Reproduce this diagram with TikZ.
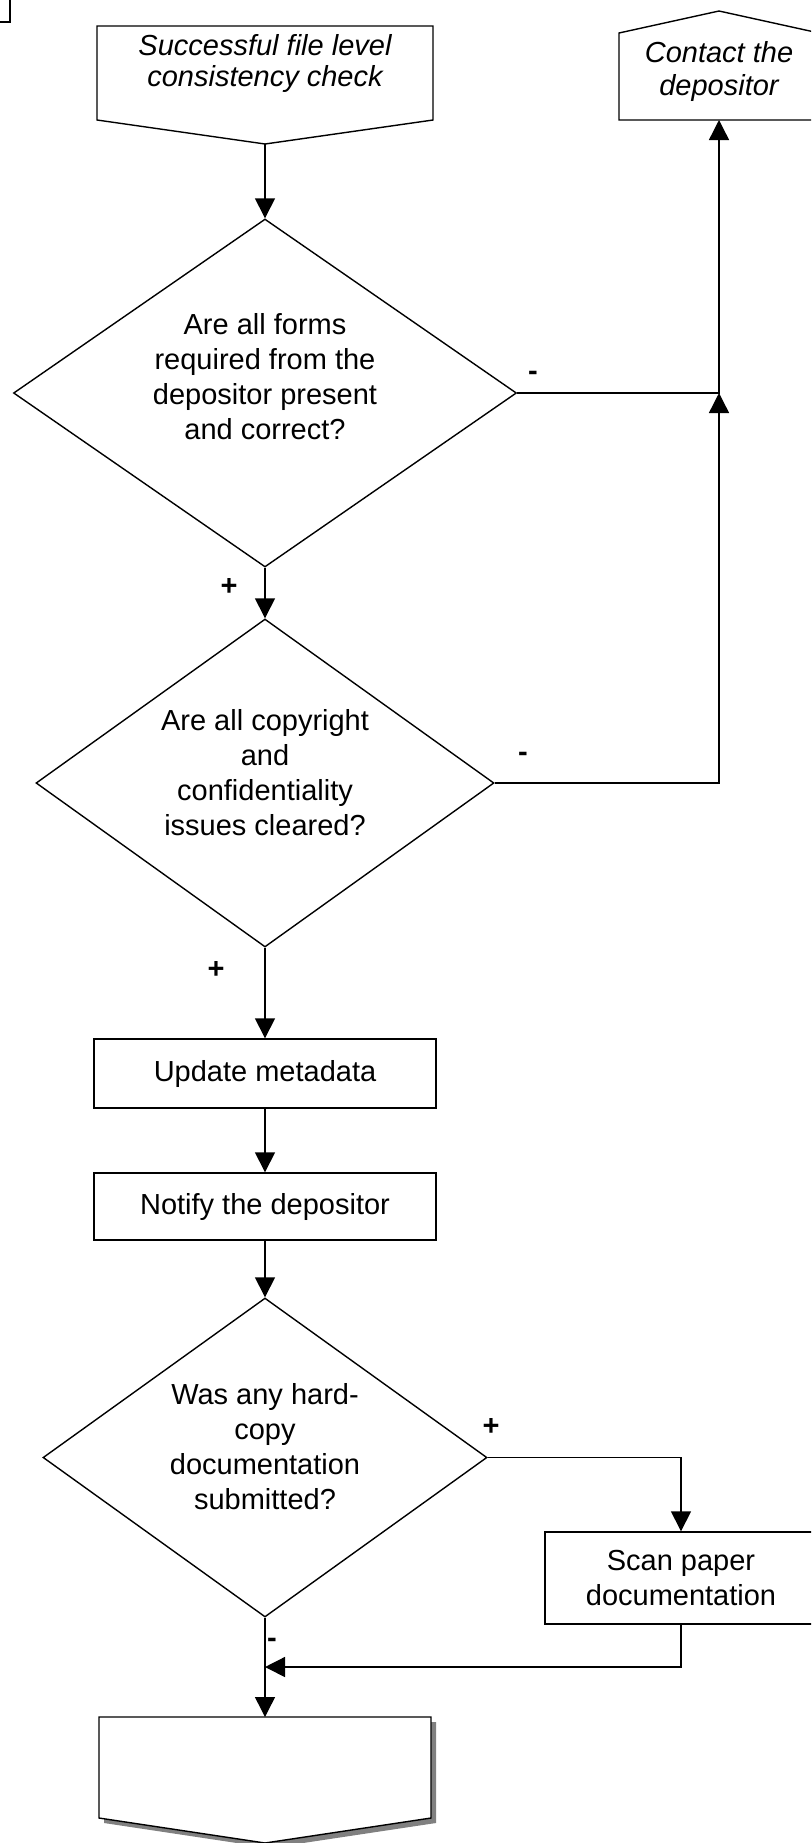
\documentclass[tikz,border=0pt]{standalone}
\usepackage{fontspec}
\setmainfont{Liberation Sans}
\usetikzlibrary{arrows.meta,shapes.geometric,calc}
\begin{document}
\begin{tikzpicture}[x=0.5pt,y=-0.5pt,
  line width=0.7pt,
  txt/.style={font=\fontsize{14.5}{17.5}\selectfont, align=center, inner sep=0pt},
  ital/.style={font=\fontsize{14.5}{#1}\selectfont\itshape, align=center, inner sep=0pt},
  sign/.style={font=\fontsize{14.5}{17.5}\selectfont\bfseries, inner sep=0pt},
  flow/.style={-{Triangle[length=10pt,width=10pt]}},
  frame/.style={rectangle, inner sep=0pt, outer sep=0pt},
  box/.style={draw, rectangle, inner sep=0pt, align=center,
    font=\fontsize{14.5}{17.5}\selectfont},
  dia/.style={draw, diamond, inner sep=0pt},
]
\useasboundingbox (0,0) rectangle (811,1843);
\clip (0,0) rectangle (811,1843);

% corner of a shape running off the page
\draw (10,0) -- (10,22) -- (0,22);

% start: off-page connector
\node[frame, minimum width=168pt, minimum height=47pt] (start) at (265,73) {};
\coordinate (starttip) at (265,144);
\draw (start.north west) -- (start.north east) -- (start.south east)
  -- (starttip) -- (start.south west) -- cycle;
\node[ital=15.5pt] (startt) at (265,63) {Successful file level\\consistency check};

% contact: off-page connector pointing up
\node[frame, minimum width=100pt, minimum height=43.5pt] (contact) at (719,76.5) {};
\coordinate (contactapex) at (719,11);
\draw (contact.south west) -- (contact.north west) -- (contactapex)
  -- (contact.north east) -- (contact.south east) -- cycle;
\node[ital=16.5pt] (contactt) at (719,71) {Contact the\\depositor};

% decisions
\node[dia, minimum width=251.5pt, minimum height=174pt] (d1) at (265,393) {};
\node[txt] (d1t) at (265,377) {Are all forms\\required from the\\depositor present\\and correct?};

\node[dia, minimum width=229pt, minimum height=164pt] (d2) at (265,783) {};
\node[txt] (d2t) at (265,773) {Are all copyright\\and\\confidentiality\\issues cleared?};

\node[dia, minimum width=222pt, minimum height=159.5pt] (d3) at (265,1457.5) {};
\node[txt] (d3t) at (265,1447) {Was any hard-\\copy\\documentation\\submitted?};

% processes
\node[box, minimum width=171pt, minimum height=34.5pt] (update) at (265,1073.5) {Update metadata};
\node[box, minimum width=171pt, minimum height=33.5pt] (notify) at (265,1206.5) {Notify the depositor};
\node[box, minimum width=136pt, minimum height=46pt] (scan) at (681,1578) {Scan paper\\documentation};

% end: off-page connector with drop shadow
\fill[black!50] (104,1722) -- (436,1722) -- (436,1823) -- (270,1848) -- (104,1823) -- cycle;
\node[frame, minimum width=166pt, minimum height=50.5pt] (finish) at (265,1767.5) {};
\coordinate (finishtip) at (265,1843);
\draw[fill=white] (finish.north west) -- (finish.north east) -- (finish.south east)
  -- (finishtip) -- (finish.south west) -- cycle;

% connectors
\coordinate (merge) at (719,393);
\coordinate (join) at (265,1667);
\draw[flow] (starttip) -- (d1.north);
\draw[flow] (d1.south) -- (d2.north);
\draw[flow] (d2.south) -- (update.north);
\draw[flow] (update.south) -- (notify.north);
\draw[flow] (notify.south) -- (d3.north);
\draw[flow] (d1.east) -| (contact.south);
\draw[flow] (d2.east) -| (merge);
\draw[flow] (d3.east) -| (scan.north);
\draw[flow] (scan.south) |- (join);
\draw[flow] (d3.south) -- (finish.north);

% branch labels
\node[sign] (s1) at (533,376) {-};
\node[sign] (s2) at (229,587) {+};
\node[sign] (s3) at (523,757) {-};
\node[sign] (s4) at (216,970) {+};
\node[sign] (s5) at (491,1427) {+};
\node[sign] (s6) at (272,1643) {-};
\end{tikzpicture}
\end{document}
